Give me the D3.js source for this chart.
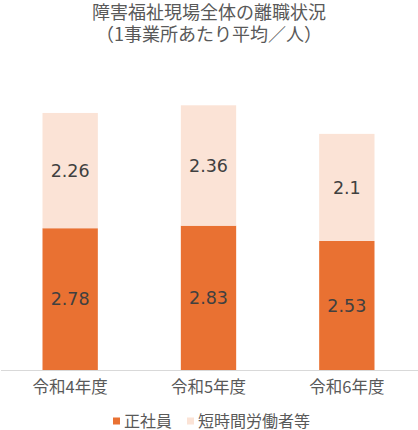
<!DOCTYPE html>
<html>
<head>
    <meta charset="utf-8" />
    <title>障害福祉現場全体の離職状況</title>
    <script src="https://cdn.jsdelivr.net/npm/d3@7"></script>
    <style>
        body { margin: 0; background: #fff; overflow: hidden; }
        text { font-family: "Noto Sans CJK JP", sans-serif; }
        .val { font-family: "DejaVu Sans", sans-serif; }
    </style>
</head>
<body>
    <div id="chart"></div>
    <script>
        // データ
        var years = ["令和4年度", "令和5年度", "令和6年度"];
        var seishain = [2.78, 2.83, 2.53];
        var tanjikan = [2.26, 2.36, 2.1];
        var seriesNames = ["正社員", "短時間労働者等"];
        var colors = ["#E97132", "#FBE3D6"];

        var W = 418, H = 430;
        var svg = d3.select("#chart").append("svg").attr("width", W).attr("height", H);

        // タイトル
        svg.append("text").attr("x", 209).attr("y", 12.5).attr("dy", "0.36em").attr("text-anchor", "middle")
            .attr("font-size", 18).attr("fill", "#595959").text("障害福祉現場全体の離職状況");
        svg.append("text").attr("x", 209).attr("y", 35).attr("dy", "0.36em").attr("text-anchor", "middle")
            .attr("font-size", 18).attr("fill", "#595959").text("（1事業所あたり平均／人）");

        var x = d3.scaleBand().domain(years).range([1, 416]).paddingInner(0.6).paddingOuter(0.3);
        var y = d3.scaleLinear().domain([0, 6]).range([370, 64]);

        var rows = years.map(function (d, i) {
            return { year: d, a: seishain[i], b: tanjikan[i] };
        });
        var stacked = d3.stack().keys(["a", "b"])(rows);

        var g = svg.selectAll("g.series").data(stacked).enter().append("g")
            .attr("class", "series").attr("fill", function (d, i) { return colors[i]; });

        g.selectAll("rect").data(function (d) { return d; }).enter().append("rect")
            .attr("x", function (d) { return x(d.data.year); })
            .attr("width", x.bandwidth())
            .attr("y", function (d) { return y(d[1]); })
            .attr("height", function (d) { return y(d[0]) - y(d[1]); });

        // 値ラベル
        g.selectAll("text").data(function (d) { return d; }).enter().append("text")
            .attr("class", "val")
            .attr("x", function (d) { return x(d.data.year) + x.bandwidth() / 2; })
            .attr("y", function (d) { return (y(d[0]) + y(d[1])) / 2; })
            .attr("dy", "0.36em")
            .attr("text-anchor", "middle")
            .attr("font-size", 17.5)
            .attr("fill", "#404040")
            .text(function (d) { return +(d[1] - d[0]).toFixed(2); });

        // X軸
        var xAxis = svg.append("g").attr("transform", "translate(0,370)")
            .call(d3.axisBottom(x).tickSize(0).tickPadding(11));
        xAxis.select(".domain").attr("stroke", "#D9D9D9").attr("d", "M1,0.5H418");
        xAxis.selectAll("text").attr("font-size", 16.5).attr("fill", "#595959")
            .style("font-family", "\"Noto Sans CJK JP\", sans-serif");

        // 凡例
        var legendX = [113, 187];
        var lg = svg.selectAll("g.legend").data(seriesNames).enter().append("g")
            .attr("class", "legend")
            .attr("transform", function (d, i) { return "translate(" + legendX[i] + ",421)"; });
        lg.append("rect").attr("x", 0).attr("y", -3.5).attr("width", 7).attr("height", 7)
            .attr("fill", function (d, i) { return colors[i]; });
        lg.append("text").attr("x", 11).attr("dy", "0.36em").attr("font-size", 16)
            .attr("fill", "#595959").text(function (d) { return d; });
    </script>
</body>
</html>
